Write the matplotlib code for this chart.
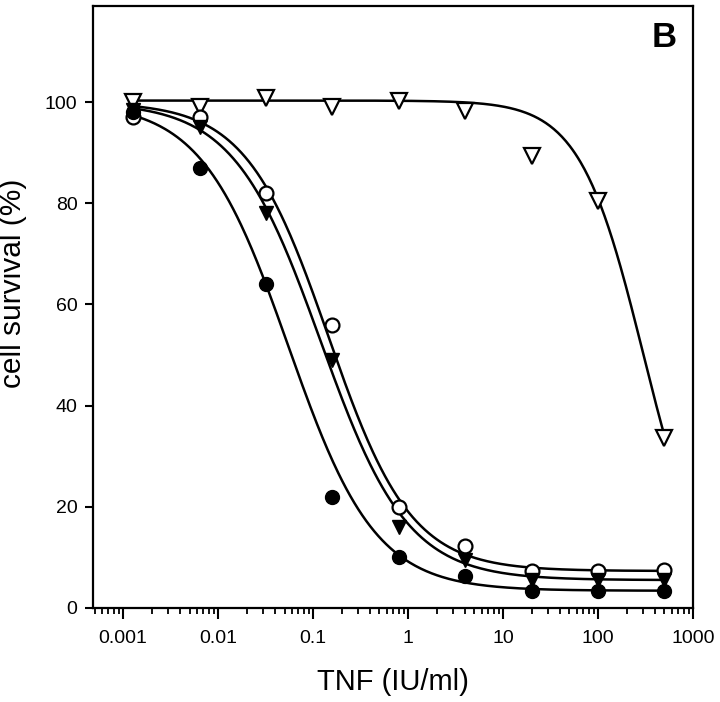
#!/usr/bin/env python3

import matplotlib

matplotlib.use("Agg")
import matplotlib.pyplot as plt
import numpy as np

plt.rcParams["font.family"] = ["Liberation Sans", "DejaVu Sans"]

# TNF doses (IU/ml), 5-fold dilution series
tnf_dose = [0.00128, 0.0064, 0.032, 0.16, 0.8, 4, 20, 100, 500]

# cell survival (%) for the four series
filled_circle = [98, 87, 64, 22, 10, 6.3, 3.4, 3.4, 3.4]
open_circle = [97, 97, 82, 56, 20, 12.3, 7.3, 7.3, 7.5]
filled_triangle = [98.5, 95, 78, 49, 16, 9.5, 5.5, 5.5, 5.5]
open_triangle = [100, 99, 100.8, 99, 100.2, 98.2, 89.3, 80.4, 33.5]

# fitted 4-parameter logistic curves: top, bottom, EC50, hill slope
fit_filled_circle = (100, 3.4, 0.055, 0.95)
fit_open_circle = (100, 7.3, 0.145, 1.0)
fit_filled_triangle = (100, 5.5, 0.12, 0.95)
fit_open_triangle = (100.3, 0.0, 300, 1.3)

x_ticks = [0.001, 0.01, 0.1, 1, 10, 100, 1000]
x_tick_labels = ["0.001", "0.01", "0.1", "1", "10", "100", "1000"]
y_ticks = [0, 20, 40, 60, 80, 100]


def logistic(x, params):
    top, bottom, ec50, hill = params
    return bottom + (top - bottom) / (1 + (x / ec50) ** hill)


fig = plt.figure(figsize=(7.2, 7.02), dpi=100)
ax = fig.add_axes([0.129, 0.134, 0.8335, 0.8575])

x_fit = np.logspace(np.log10(tnf_dose[0]), np.log10(tnf_dose[-1]), 400)
for params in (fit_filled_circle, fit_filled_triangle, fit_open_circle, fit_open_triangle):
    ax.plot(x_fit, logistic(x_fit, params), color="black", lw=1.8, zorder=2)

ax.plot(tnf_dose, open_triangle, "v", ms=11, mfc="white", mec="black", mew=1.6, ls="none", zorder=3)
ax.plot(tnf_dose, open_circle, "o", ms=10, mfc="white", mec="black", mew=1.6, ls="none", zorder=3)
ax.plot(tnf_dose, filled_triangle, "v", ms=10.5, mfc="black", mec="black", ls="none", zorder=4)
ax.plot(tnf_dose, filled_circle, "o", ms=10, mfc="black", mec="black", ls="none", zorder=5)

ax.set_xscale("log")
ax.set_xlim(0.00048, 1000)
ax.set_ylim(0, 119)
ax.set_xticks(x_ticks)
ax.set_xticklabels(x_tick_labels)
ax.set_yticks(y_ticks)

ax.tick_params(axis="both", which="major", direction="out", labelsize=14,
               width=1.5, top=False, right=False)
ax.tick_params(axis="x", which="major", length=8, pad=8)
ax.tick_params(axis="y", which="major", length=6, pad=5)
ax.tick_params(axis="x", which="minor", direction="out", length=4.5, width=1.3, top=False)
for spine in ax.spines.values():
    spine.set_linewidth(1.6)

ax.set_xlabel("TNF (IU/ml)", fontsize=21, labelpad=15)
ax.set_ylabel("cell survival (%)", fontsize=21.5)
ax.yaxis.set_label_coords(-0.11, 0.54)

ax.text(0.973, 0.932, "B", transform=ax.transAxes, ha="right", va="baseline",
        fontsize=25, fontweight="bold")

fig.savefig("out.png", dpi=100)
